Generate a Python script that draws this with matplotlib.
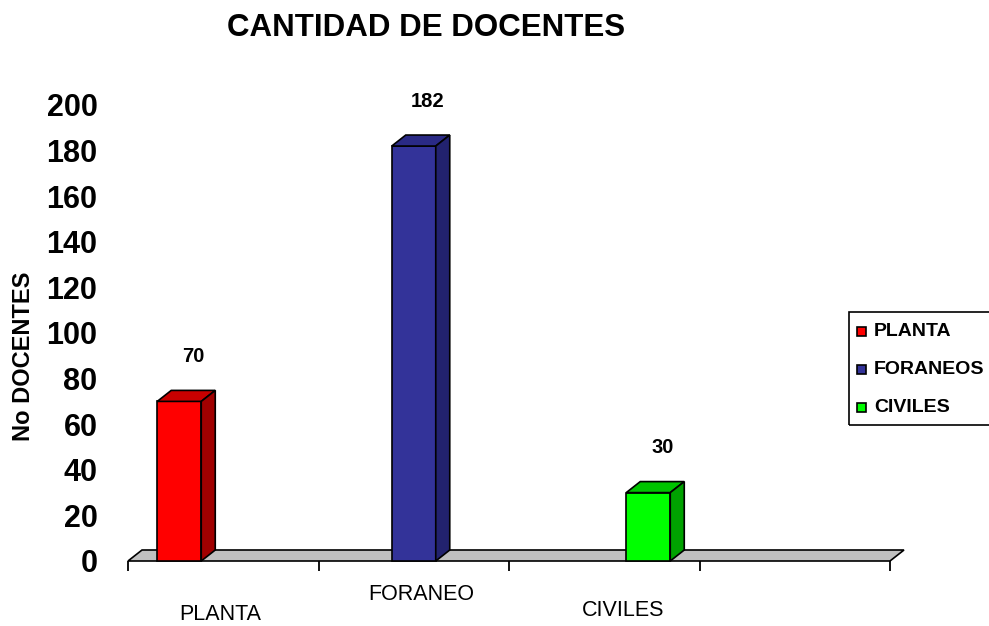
import matplotlib
matplotlib.use('Agg')
import matplotlib.pyplot as plt
from matplotlib.patches import Polygon, Rectangle

plt.rcParams['font.family'] = ['Liberation Sans', 'DejaVu Sans']

# ---- data ----
categories = ['PLANTA', 'FORANEO', 'CIVILES', '']
series_names = ['PLANTA', 'FORANEOS', 'CIVILES']
series_category = [0, 1, 2]
series_values = [70, 182, 30]
y_ticks = [0, 20, 40, 60, 80, 100, 120, 140, 160, 180, 200]
title = 'CANTIDAD DE DOCENTES'
y_label = 'No DOCENTES'

# ---- style ----
front_colors = ['#FF0000', '#333399', '#00FF00']
top_colors = ['#C80000', '#2A2A85', '#00C400']
side_colors = ['#A00000', '#22226E', '#00A200']
floor_color = '#C0C0C0'

W, H = 989, 626
fig = plt.figure(figsize=(W / 100, H / 100), dpi=100)
ax_l, ax_r, ax_b, ax_t = 128, 890, 561, 105
ax = fig.add_axes([ax_l / W, (H - ax_b) / H, (ax_r - ax_l) / W, (ax_b - ax_t) / H])
ax.set_xlim(0, len(categories))
ax.set_ylim(0, 200)

px_x = len(categories) / (ax_r - ax_l)
px_y = 200 / (ax_b - ax_t)
dx = 14 * px_x
dy = 11 * px_y

# floor
floor = Polygon([(0, 0), (len(categories), 0), (len(categories) + dx, dy), (dx, dy)],
                closed=True, facecolor=floor_color, edgecolor='black', lw=1.2,
                clip_on=False, zorder=1)
ax.add_patch(floor)

n = len(series_names)
w = 0.231
for k, (name, cat, v) in enumerate(zip(series_names, series_category, series_values)):
    x0 = cat + 0.5 - n * w / 2 + k * w
    ax.bar(x0, v, width=w, align='edge', color=front_colors[k], edgecolor='black',
           lw=1.2, zorder=3, clip_on=False)
    top = Polygon([(x0, v), (x0 + w, v), (x0 + w + dx, v + dy), (x0 + dx, v + dy)],
                  closed=True, facecolor=top_colors[k], edgecolor='black', lw=1.2,
                  zorder=3, clip_on=False)
    side = Polygon([(x0 + w, 0), (x0 + w + dx, dy), (x0 + w + dx, v + dy), (x0 + w, v)],
                   closed=True, facecolor=side_colors[k], edgecolor='black', lw=1.2,
                   zorder=3, clip_on=False)
    ax.add_patch(top)
    ax.add_patch(side)
    ax.annotate(str(v), xy=(x0 + w / 2 + dx, v), xytext=(0, 45 * 0.72),
                textcoords='offset points', ha='center', va='center',
                fontsize=14.5, fontweight='bold', annotation_clip=False)

for s in ax.spines.values():
    s.set_visible(False)

ax.set_xticks(range(len(categories) + 1))
ax.tick_params(axis='x', length=7.5, width=1.3, direction='out', labelbottom=False,
               color='black')
ax.set_yticks(y_ticks)
ax.set_yticklabels([str(t) for t in y_ticks], fontsize=22, fontweight='bold')
ax.tick_params(axis='y', length=0, pad=22)

# category labels (staggered as in the original)
label_offsets_px = [(-3, -54), (7, -33), (19, -49)]
for i, c in enumerate(categories[:3]):
    ox, oy = label_offsets_px[i]
    ax.annotate(c, xy=(i + 0.5, 0), xycoords=('data', 'axes fraction'),
                xytext=(ox * 0.72, oy * 0.72), textcoords='offset points',
                ha='center', va='center', fontsize=15.5, annotation_clip=False)

ax.set_ylabel(y_label, fontsize=17, fontweight='bold')
ax.yaxis.set_label_coords((35 - ax_l) / (ax_r - ax_l), (ax_b - 356) / (ax_b - ax_t))

fig.text(426 / W, 1 - 28 / H, title, fontsize=22.5, fontweight='bold',
         ha='center', va='center')

# legend
fig.add_artist(Rectangle((849 / W, 1 - 425 / H), (995 - 849) / W, (425 - 312) / H,
                         transform=fig.transFigure, fill=False, edgecolor='black',
                         lw=1.2, clip_on=False))
for k, name in enumerate(series_names):
    yc = 331 + 38 * k
    fig.add_artist(Rectangle((857 / W, 1 - (yc + 4.5) / H), 9 / W, 9 / H,
                             transform=fig.transFigure, facecolor=front_colors[k],
                             edgecolor='black', lw=1.2))
    fig.text(874 / W, 1 - yc / H, name, fontsize=14, fontweight='bold',
             ha='left', va='center')

fig.savefig('out.png', dpi=100)
